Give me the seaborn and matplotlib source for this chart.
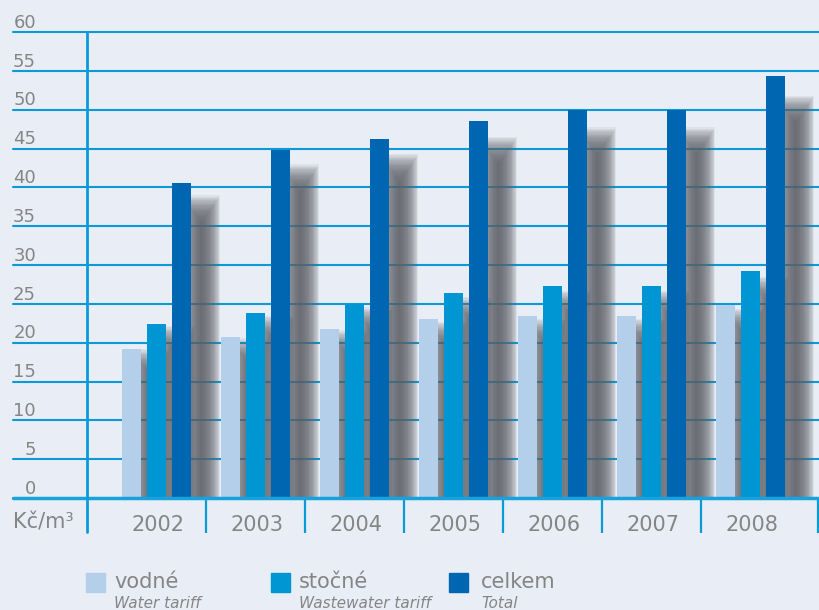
import numpy as np
import pandas as pd
import matplotlib.pyplot as plt
import seaborn as sns
from matplotlib.patches import Rectangle

years = ["2002", "2003", "2004", "2005", "2006", "2007", "2008"]
vodne = [19.2, 20.7, 21.8, 23.0, 23.4, 23.4, 24.8]
stocne = [22.4, 23.8, 25.0, 26.4, 27.3, 27.3, 29.2]
celkem = [40.5, 44.8, 46.2, 48.6, 49.9, 49.9, 54.3]
series = ["vodné", "stočné", "celkem"]
series_en = ["Water tariff", "Wastewater tariff", "Total"]
y_ticks = list(range(0, 65, 5))

BG = "#e9edf5"
GRID = "#0a9ad8"
TEXT = "#858585"
colors = ["#b4cfe9", "#0096d3", "#0066b1"]

df = pd.DataFrame({
    "year": years * 3,
    "value": vodne + stocne + celkem,
    "series": np.repeat(series, len(years)),
})

sns.set_theme(style="white")
plt.rcParams["font.family"] = ["DejaVu Sans"]

fig = plt.figure(figsize=(8.2, 6.1), dpi=100, facecolor=BG)
ax = fig.add_axes([87 / 820, 112 / 610, 733 / 820, 466 / 610])
ax.set_facecolor(BG)

# bars (seaborn)
slot = 0.253
sns.barplot(data=df, x="year", y="value", hue="series", order=years,
            hue_order=series, palette=colors, width=slot * 3, gap=0.24,
            saturation=1, legend=False, ax=ax, zorder=3, edgecolor="none")

# soft drop shadows behind the bars
n_layers = 24
blur_x, blur_y = 0.095, 1.8
bar_w = slot * 0.76
for j, vals in enumerate([vodne, stocne, celkem]):
    xs = np.arange(len(years)) + (j - 1) * slot + 0.2
    hs = np.array(vals) * 0.93 - 0.5
    for k in range(n_layers):
        g = 1 - 2 * k / (n_layers - 1)
        ax.bar(xs, hs + g * blur_y, width=bar_w + 2 * g * blur_x,
               color="#5f6268", alpha=0.085, zorder=2, linewidth=0)

# gridlines
for v in y_ticks[1:]:
    ax.axhline(v, xmin=-74 / 733, xmax=1, color=GRID, lw=1.5,
               clip_on=False, zorder=1)
    ax.text(-51 / 733, v + 0.55, str(v), transform=ax.get_yaxis_transform(),
            ha="right", va="baseline", fontsize=13, color=TEXT)
ax.axhline(0, xmin=-74 / 733, xmax=1, color="#18a2dd", lw=2.5,
           clip_on=False, zorder=4)
ax.text(-51 / 733, 0.55, "0", transform=ax.get_yaxis_transform(),
        ha="right", va="baseline", fontsize=13, color=TEXT)

ax.set_ylim(0, 60)
ax.set_xlim(-0.702, 6.702)
for s in ax.spines.values():
    s.set_visible(False)

# y axis line
ax.plot([0, 0], [-34 / 466, 1], transform=ax.transAxes, color=GRID, lw=2,
        clip_on=False, zorder=5)

# x ticks: separators as major, year labels as minor
seps = [i + 0.5 for i in range(len(years) - 1)] + [6.68]
ax.set_xticks(seps)
ax.set_xticklabels([])
ax.tick_params(axis="x", which="major", length=25, width=1.6, color=GRID,
               direction="out", bottom=True)
ax.set_xticks(np.arange(len(years)) + 0.015, minor=True)
ax.set_xticklabels(years, minor=True)
ax.tick_params(axis="x", which="minor", length=0, pad=12, labelsize=15,
               labelcolor=TEXT)
ax.set_yticks([])
ax.set_xlabel("")
ax.set_ylabel("")

fig.text(13 / 820, (610 - 523) / 610, "Kč/m³", fontsize=15, color=TEXT,
         ha="left", va="center")

# legend
sq_x = [86, 271, 449]
tx_x = [114, 299, 481]
for c, name, en, sx, tx in zip(colors, series, series_en, sq_x, tx_x):
    fig.patches.append(Rectangle((sx / 820, (610 - 592) / 610), 19 / 820,
                                 19 / 610, transform=fig.transFigure,
                                 color=c, zorder=3))
    fig.text(tx / 820, (610 - 582) / 610, name, fontsize=15, color=TEXT,
             ha="left", va="center")
    fig.text(tx / 820, (610 - 604) / 610, en, fontsize=11, color=TEXT,
             style="italic", ha="left", va="center")

fig.savefig("out.png", dpi=100, facecolor=BG)
